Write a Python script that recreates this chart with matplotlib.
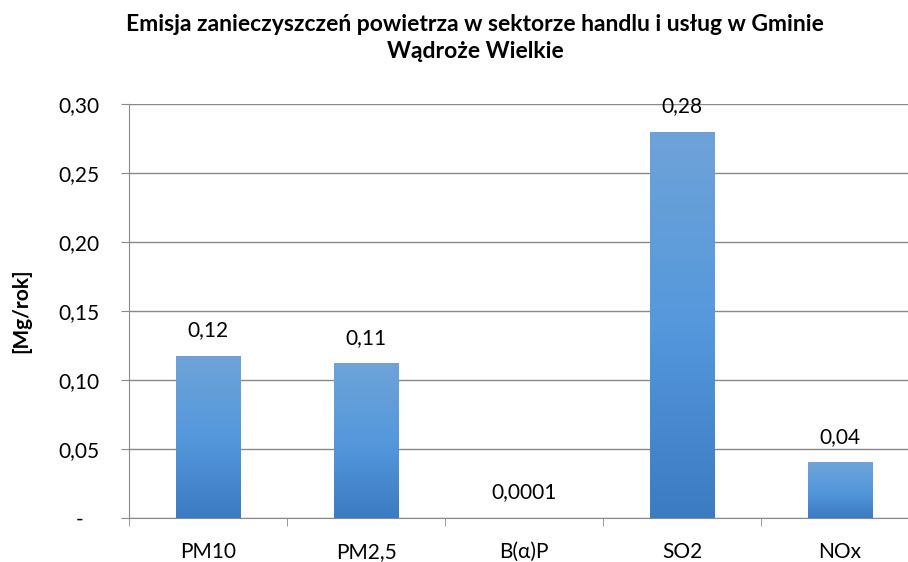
import numpy as np
import matplotlib
matplotlib.use('Agg')
import matplotlib.pyplot as plt
from matplotlib.ticker import FuncFormatter

categories = ['PM10', 'PM2,5', 'B(\u03b1)P', 'SO2', 'NOx']
values = [0.1174, 0.1121, 0.0001, 0.2800, 0.0404]
labels = ['0,12', '0,11', '0,0001', '0,28', '0,04']

plt.rcParams['font.family'] = ['Lato', 'DejaVu Sans']

fig = plt.figure(figsize=(9.08, 5.62), dpi=100)
# plot area runs past the right edge (the original picture is cropped)
ax = fig.add_axes([129 / 908, 44 / 562, 790 / 908, 414 / 562])

x = np.arange(len(categories))
bars = ax.bar(x, values, width=0.41, color='#4f8fd0', zorder=3)

# gradient fill inside each bar
grad = np.linspace(0, 1, 256).reshape(-1, 1)
cmap = matplotlib.colors.LinearSegmentedColormap.from_list('g', ['#3b7bc2', '#5598dc', '#6ea3d8'])
for b in bars:
    if b.get_height() < 0.001:
        continue
    im = ax.imshow(grad, cmap=cmap, aspect='auto', origin='lower',
                   extent=[b.get_x(), b.get_x() + b.get_width(), 0, b.get_height()], zorder=4)
    im.set_clip_path(b)

for xi, v, t in zip(x, values, labels):
    ax.annotate(t, (xi, v), xytext=(0, 14), textcoords='offset points',
                ha='center', va='baseline', fontsize=15, zorder=5)

ax.set_xlim(-0.5, len(categories) - 0.5)
ax.set_ylim(0, 0.30)
ax.set_yticks(np.arange(0, 0.301, 0.05))
ax.yaxis.set_major_formatter(FuncFormatter(lambda v, p: '-   ' if abs(v) < 1e-9 else f'{v:.2f}'.replace('.', ',')))
ax.set_xticks(x)
ax.set_xticklabels(categories)
ax.set_xticks(np.arange(-0.5, len(categories)), minor=True)
ax.tick_params(axis='x', which='major', length=0, labelsize=15, pad=17)
ax.tick_params(axis='x', which='minor', length=6, color='#898989', direction='out')
ax.tick_params(axis='y', length=6, color='#898989', labelsize=15, pad=15)

ax.grid(axis='y', color='#898989', linewidth=1.0, zorder=0)
for s in ['top', 'right']:
    ax.spines[s].set_visible(False)
ax.spines['left'].set_color('#898989')
ax.spines['bottom'].set_color('#898989')

ax.set_ylabel('[Mg/rok]', fontsize=15, fontweight='bold', labelpad=20)
fig.suptitle('Emisja zanieczyszcze\u0144 powietrza w sektorze handlu i us\u0142ug w Gminie\nW\u0105dro\u017ce Wielkie',
             fontsize=16.5, fontweight='bold', x=0.523, y=0.975, va='top', linespacing=1.35)

fig.savefig('out.png', dpi=100)
